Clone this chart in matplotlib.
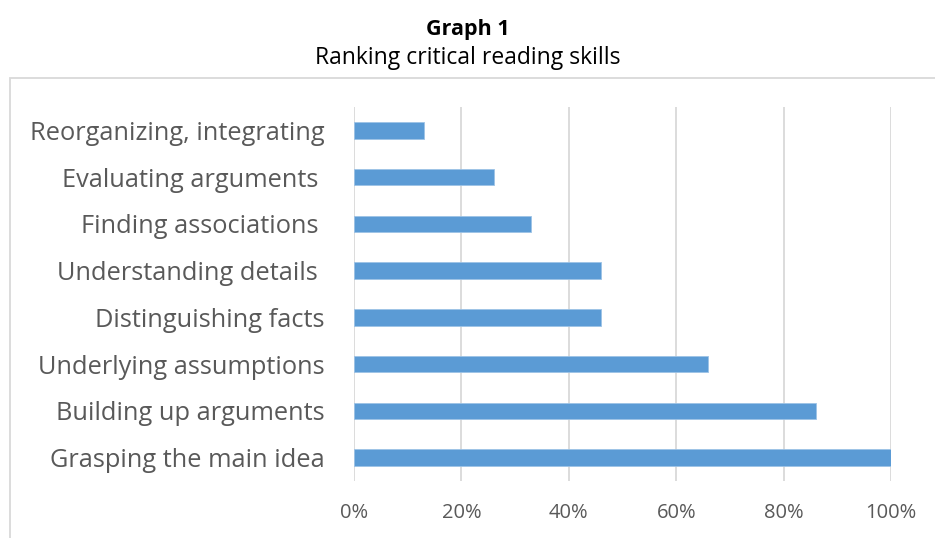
import matplotlib
matplotlib.use("Agg")
import matplotlib.pyplot as plt
from matplotlib.patches import Rectangle
from matplotlib.ticker import FuncFormatter

categories = ["Reorganizing, integrating", "Evaluating arguments ", "Finding associations ",
              "Understanding details ", "Distinguishing facts", "Underlying assumptions",
              "Building up arguments", "Grasping the main idea"]
values = [13, 26, 33, 46, 46, 66, 86, 100]
xticks = [0, 20, 40, 60, 80, 100]

plt.rcParams['font.family'] = ['Open Sans', 'DejaVu Sans']
W, H = 935, 538
fig = plt.figure(figsize=(W/100, H/100), dpi=100)
ax = fig.add_axes([354/W, 1-481/H, (891-354)/W, (481-107)/H])

ypos = list(range(len(categories)))
ax.barh(ypos, values, height=0.35, color='#5B9BD5', edgecolor='#9DC3E6', linewidth=0.6, zorder=3)
ax.set_ylim(len(categories)-0.5, -0.5)
ax.set_xlim(0, 100)
ax.set_yticks(ypos)
ax.set_yticklabels(categories, fontsize=18.3, color='#595959')
ax.set_xticks(xticks)
ax.xaxis.set_major_formatter(FuncFormatter(lambda v, p: f"{int(v)}%"))
ax.tick_params(axis='x', labelsize=14.5, colors='#595959', length=0, pad=16)
ax.tick_params(axis='y', length=0, pad=21)
ax.grid(axis='x', color='#D9D9D9', linewidth=1.3, zorder=0)
for s in ax.spines.values():
    s.set_visible(False)

fig.text(0.5, 1-30/H, "Graph 1", ha='center', va='center', fontsize=15.5, fontweight='bold', color='black')
fig.text(0.5, 1-58/H, "Ranking critical reading skills", ha='center', va='center', fontsize=16.5, color='black')

fig.add_artist(Rectangle((10/W, -0.05), 1.0, 1-78/H+0.05, transform=fig.transFigure,
                         fill=False, edgecolor='#D9D9D9', linewidth=1.3))
fig.savefig("out.png", dpi=100)
